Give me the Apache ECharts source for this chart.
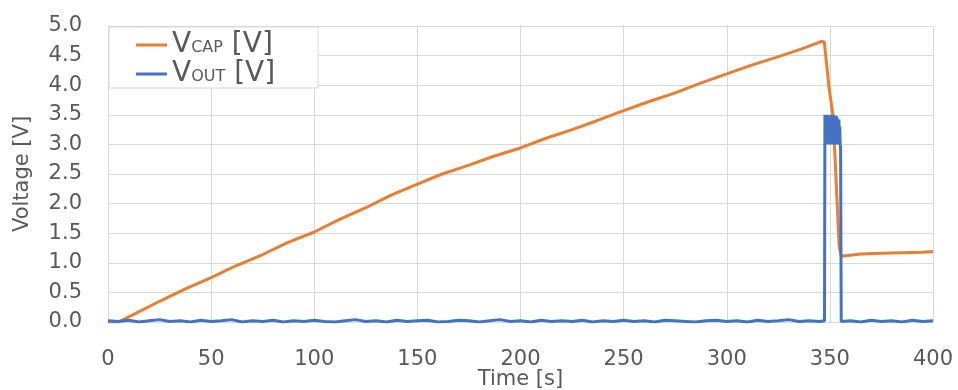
<!DOCTYPE html>
<html>
<head>
<meta charset="utf-8">
<script src="https://cdn.jsdelivr.net/npm/echarts@6/dist/echarts.min.js"></script>
<style>html,body{margin:0;padding:0;background:#fff;}#c{width:958px;height:390px;}</style>
</head>
<body>
<div id="c"></div>
<script>
// Tick labels
const xTicks = [0, 50, 100, 150, 200, 250, 300, 350, 400];
const yTicks = [0, 0.5, 1, 1.5, 2, 2.5, 3, 3.5, 4, 4.5, 5];

// V_CAP series
const capTime = [0, 5, 12, 25, 37, 50, 62, 75, 87, 100, 112, 125, 137, 150, 162, 175, 187, 200, 212, 225, 237, 250, 262, 275, 287, 300, 312, 324, 336, 346, 347.3, 349.6, 351.6, 352.4, 354.5, 355.5, 356, 365, 375, 385, 395, 400];
const capVolt = [0, 0.0, 0.12, 0.35, 0.55, 0.75, 0.95, 1.14, 1.34, 1.52, 1.73, 1.93, 2.14, 2.33, 2.50, 2.65, 2.80, 2.94, 3.10, 3.25, 3.40, 3.57, 3.72, 3.87, 4.03, 4.19, 4.34, 4.47, 4.61, 4.74, 4.73, 3.96, 3.46, 2.85, 1.28, 1.11, 1.13, 1.15, 1.16, 1.17, 1.18, 1.19];

// V_OUT series
const outTime = [0, 5, 10, 15, 20, 25, 30, 35, 40, 45, 50, 55, 60, 65, 70, 75, 80, 85, 90, 95, 100, 105, 110, 115, 120, 125, 130, 135, 140, 145, 150, 155, 160, 165, 170, 175, 180, 185, 190, 195, 200, 205, 210, 215, 220, 225, 230, 235, 240, 245, 250, 255, 260, 265, 270, 275, 280, 285, 290, 295, 300, 305, 310, 315, 320, 325, 330, 335, 340, 345,
  347.4, 347.6, 347.8, 348.0, 348.2, 348.4, 348.6, 348.8, 349.0, 349.2, 349.4, 349.6, 349.8, 350.0, 350.2, 350.4, 350.6, 350.8, 351.0, 351.2, 351.4, 351.6, 351.8, 352.0, 352.2, 352.4, 352.6, 352.8, 353.0, 353.2, 353.4, 353.6, 353.8, 354.0, 354.2, 354.4, 354.6, 354.8, 355.0, 355.2, 355.5,
  360, 365, 370, 375, 380, 385, 390, 395, 400];
const outVolt = [0.02, 0.01, 0.03, 0.00, 0.02, 0.04, 0.01, 0.02, 0.00, 0.03, 0.01, 0.02, 0.04, 0.00, 0.02, 0.01, 0.03, 0.00, 0.02, 0.01, 0.03, 0.01, 0.00, 0.02, 0.04, 0.01, 0.02, 0.00, 0.03, 0.01, 0.02, 0.03, 0.00, 0.01, 0.03, 0.02, 0.00, 0.02, 0.04, 0.01, 0.02, 0.00, 0.03, 0.01, 0.02, 0.01, 0.03, 0.00, 0.02, 0.01, 0.03, 0.01, 0.02, 0.00, 0.03, 0.02, 0.01, 0.00, 0.02, 0.03, 0.01, 0.02, 0.00, 0.03, 0.01, 0.02, 0.04, 0.01, 0.02, 0.01,
  0.02, 3.50, 3.05, 3.48, 3.00, 3.45, 3.10, 3.50, 3.02, 3.42, 3.08, 3.47, 3.00, 3.40, 3.12, 3.50, 3.04, 3.44, 3.00, 3.48, 3.10, 3.42, 3.02, 3.50, 3.06, 3.46, 3.00, 3.40, 3.10, 3.48, 3.04, 3.44, 3.00, 3.38, 3.08, 3.42, 3.02, 3.30, 3.00, 2.95, 0.01,
  0.02, 0.00, 0.03, 0.01, 0.02, 0.00, 0.03, 0.01, 0.02];

const pair = (t, v) => t.map((x, i) => [x, v[i]]);
const FONT = 'DejaVu Sans';
const GREY = '#595959';

const chart = echarts.init(document.getElementById('c'), null, {renderer: 'canvas'});
chart.setOption({
  animation: false,
  backgroundColor: '#fff',
  grid: {left: 108, right: 25, top: 26, bottom: 68, containLabel: false, outerBoundsMode: 'none'},
  xAxis: {
    type: 'value', min: xTicks[0], max: xTicks[xTicks.length - 1], interval: xTicks[1] - xTicks[0],
    name: 'Time [s]', nameLocation: 'middle', nameGap: 47, nameMoveOverlap: false,
    nameTextStyle: {fontFamily: FONT, fontSize: 21, color: GREY},
    axisLine: {show: true, lineStyle: {color: '#d9d9d9', width: 1}},
    axisTick: {show: false},
    axisLabel: {fontFamily: FONT, fontSize: 21, color: GREY, margin: 27},
    splitLine: {show: true, lineStyle: {color: '#d9d9d9', width: 1}}
  },
  yAxis: {
    type: 'value', min: yTicks[0], max: yTicks[yTicks.length - 1], interval: yTicks[1] - yTicks[0],
    name: 'Voltage [V]', nameLocation: 'middle', nameGap: 75, nameMoveOverlap: false,
    nameTextStyle: {fontFamily: FONT, fontSize: 21, color: GREY},
    axisLine: {show: true, lineStyle: {color: '#d9d9d9', width: 1}},
    axisTick: {show: false},
    axisLabel: {fontFamily: FONT, fontSize: 21, color: GREY, margin: 26, formatter: v => v.toFixed(1)},
    splitLine: {show: true, lineStyle: {color: '#d9d9d9', width: 1}}
  },
  legend: {
    orient: 'vertical', left: 109, top: 27,
    backgroundColor: '#fff', borderColor: '#d9d9d9', borderWidth: 1,
    padding: [4, 43, 0, 27],
    itemGap: 1, itemWidth: 31, itemHeight: 3, icon: 'rect',
    data: ['cap', 'out'],
    formatter: n => n === 'cap' ? 'V{sub|CAP} [V]' : 'V{sub|OUT} [V]',
    textStyle: {
      fontFamily: FONT, fontSize: 28, color: GREY, lineHeight: 28,
      rich: {sub: {fontFamily: FONT, fontSize: 16, color: GREY, lineHeight: 16, verticalAlign: 'bottom', padding: [0, 0, 3, 0]}}
    }
  },
  series: [
    {name: 'cap', type: 'line', data: pair(capTime, capVolt), showSymbol: false, symbol: 'none',
     lineStyle: {color: '#ED7D31', width: 3}, itemStyle: {color: '#ED7D31'}},
    {name: 'out', type: 'line', data: pair(outTime, outVolt), showSymbol: false, symbol: 'none',
     lineStyle: {color: '#4472C4', width: 3}, itemStyle: {color: '#4472C4'}}
  ]
});
</script>
</body>
</html>
